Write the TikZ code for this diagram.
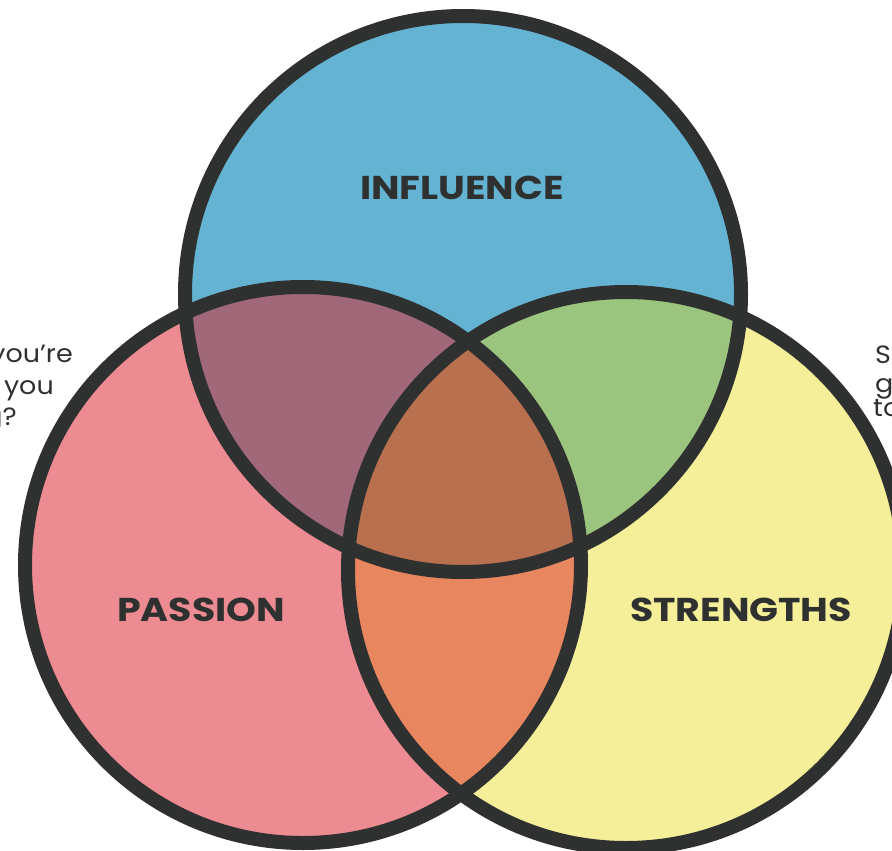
\documentclass[tikz,border=0pt]{standalone}
\usepackage{fontspec}
\setmainfont{Poppins}
\newfontfamily\labfont{Poppins}[FakeStretch=1.15]
\newfontfamily\sidefont{Poppins}[FakeStretch=1.08]
\definecolor{cblue}{HTML}{64B3D3}
\definecolor{cpink}{HTML}{EC8B91}
\definecolor{cyellow}{HTML}{F5EF9A}
\definecolor{cpurple}{HTML}{A06879}
\definecolor{cgreen}{HTML}{9BC47F}
\definecolor{corange}{HTML}{E8865F}
\definecolor{ccenter}{HTML}{B8704F}
\definecolor{cstroke}{HTML}{2F3130}
\tikzset{
  ring/.style={draw=cstroke, line width=14pt},
  lab/.style={font=\labfont\fontsize{33}{33}\selectfont\bfseries, text=cstroke, inner sep=0pt},
  side/.style={font=\sidefont\fontsize{25}{25}\selectfont, text=cstroke, inner sep=0pt},
}
\begin{document}
\begin{tikzpicture}[x=1pt,y=-1pt]
\useasboundingbox (0,0) rectangle (892,851);
\clip (0,0) rectangle (892,851);
\def\rr{278}
\coordinate (T) at (463,294);
\coordinate (L) at (303,565);
\coordinate (R) at (626,570);
\fill[cblue] (T) circle[radius=\rr];
\fill[cpink] (L) circle[radius=\rr];
\fill[cyellow] (R) circle[radius=\rr];
\begin{scope}
  \clip (T) circle[radius=\rr];
  \fill[cpurple] (L) circle[radius=\rr];
  \fill[cgreen] (R) circle[radius=\rr];
\end{scope}
\begin{scope}
  \clip (L) circle[radius=\rr];
  \fill[corange] (R) circle[radius=\rr];
  \clip (T) circle[radius=\rr];
  \fill[ccenter] (R) circle[radius=\rr];
\end{scope}
\draw[ring] (T) circle[radius=\rr];
\draw[ring] (L) circle[radius=\rr];
\draw[ring] (R) circle[radius=\rr];
\node[lab] (inf) at (462,188) {INFLUENCE};
\node[lab] (pas) at (201,610) {PASSION};
\node[lab] (str) at (741,610) {STRENGTHS};
\node[side, anchor=base east] (l1) at (73,362) {you’re};
\node[side, anchor=base east] (l2) at (54,394) {you};
\node[side, anchor=base east] (l3) at (17,425) {g?};
\node[side, anchor=base west] (r1) at (875,363) {S};
\node[side, anchor=base west] (r2) at (875,392) {g};
\node[side, anchor=base west] (r3) at (873,416) {to};
\end{tikzpicture}
\end{document}
